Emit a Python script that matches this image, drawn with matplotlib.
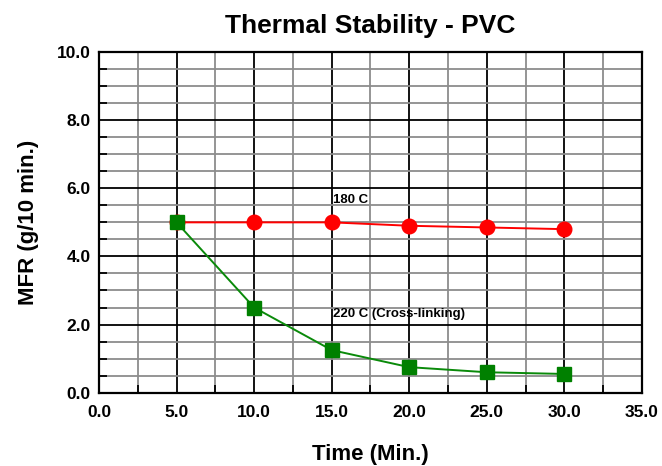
import matplotlib
matplotlib.use("Agg")
import matplotlib.pyplot as plt
from matplotlib.ticker import MultipleLocator

plt.rcParams['font.family'] = ['Liberation Sans', 'DejaVu Sans']

# MFR readings over time at two test temperatures
time_min = [5.0, 10.0, 15.0, 20.0, 25.0, 30.0]
mfr_180 = [5.0, 5.0, 5.0, 4.9, 4.85, 4.8]
mfr_220 = [5.0, 2.5, 1.25, 0.75, 0.6, 0.55]

xticks = [0.0, 5.0, 10.0, 15.0, 20.0, 25.0, 30.0, 35.0]
yticks = [0.0, 2.0, 4.0, 6.0, 8.0, 10.0]

fig = plt.figure(figsize=(6.62, 4.66), dpi=100)
ax = fig.add_axes([0.1495, 0.1573, 0.8203, 0.7311])

ax.set_xlim(0, 35)
ax.set_ylim(0, 10)
ax.set_xticks(xticks)
ax.set_yticks(yticks)
ax.set_xticklabels(["%.1f" % t for t in xticks], fontsize=12.5, fontweight='bold')
ax.set_yticklabels(["%.1f" % t for t in yticks], fontsize=12.5, fontweight='bold')
ax.xaxis.set_minor_locator(MultipleLocator(2.5))
ax.yaxis.set_minor_locator(MultipleLocator(0.5))

# grey minor grid, black major grid
ax.grid(which='minor', color='#8c8c8c', lw=1.3, zorder=0)
ax.grid(which='major', color='black', lw=1.3, zorder=0)
ax.tick_params(which='major', length=0, pad=6)
ax.tick_params(which='minor', direction='in', length=6, width=1.3, color='black')
ax.tick_params(axis='x', which='major', pad=9)
for s in ax.spines.values():
    s.set_linewidth(1.6)

ax.plot(time_min, mfr_180, color='#ff0000', lw=1.4, marker='o', ms=10.5,
        markeredgecolor='#ff0000', zorder=3)
ax.plot(time_min, mfr_220, color='#0a8a0a', lw=1.4, marker='s', ms=9.5,
        markerfacecolor='#008000', markeredgecolor='#008000', zorder=4)

ax.text(15.1, 5.65, "180 C", fontsize=9.5, fontweight='bold', va='center')
ax.text(15.1, 2.3, "220 C (Cross-linking)", fontsize=9.5, fontweight='bold', va='center')

ax.set_title("Thermal Stability - PVC", fontsize=19, fontweight='bold', pad=14)
ax.set_xlabel("Time (Min.)", fontsize=16, fontweight='bold', labelpad=17)
ax.set_ylabel("MFR (g/10 min.)", fontsize=16, fontweight='bold', labelpad=13)

fig.savefig("out.png", dpi=100, facecolor='white')
